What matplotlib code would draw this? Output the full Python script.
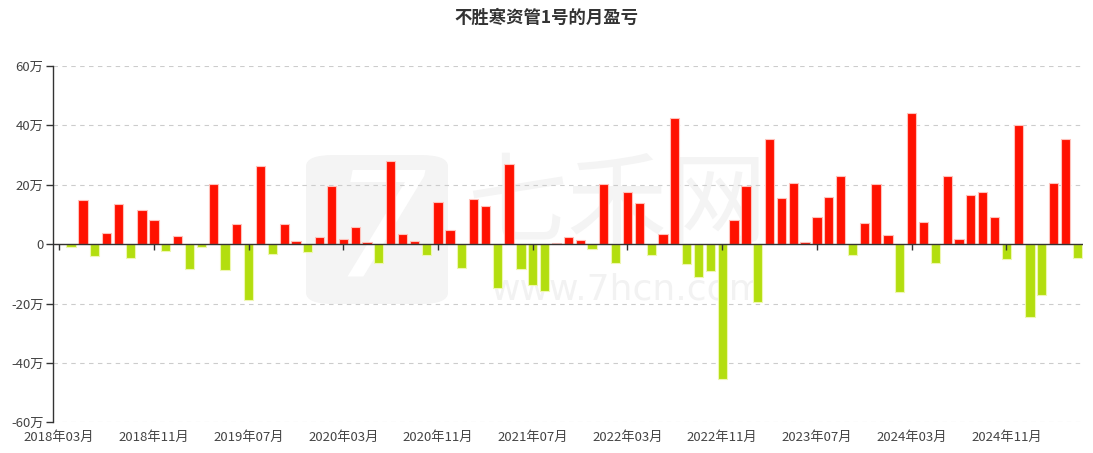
import matplotlib
matplotlib.use("Agg")
import matplotlib.pyplot as plt
from matplotlib.patches import FancyBboxPatch
import numpy as np

plt.rcParams['font.family'] = ['Noto Sans CJK SC', 'DejaVu Sans']

title = "不胜寒资管1号的月盈亏"

# months 2018-03 .. 2025-05
months = []
y, m = 2018, 3
for _ in range(87):
    months.append(f"{y}年{m:02d}月")
    m += 1
    if m > 12:
        m = 1
        y += 1

# monthly profit/loss, unit: 万
values = [
    0.0, -1.1, 14.9, -4.0, 3.6, 13.5, -4.7, 11.6, 8.1, -2.2,
    2.7, -8.5, -1.0, 20.3, -8.7, 6.8, -18.7, 26.3, -3.4, 6.8,
    0.9, -2.8, 2.4, 19.5, 1.9, 5.8, 0.7, -6.3, 27.9, 3.4,
    1.2, -3.6, 14.2, 4.8, -8.2, 15.1, 12.8, -14.8, 27.1, -8.4,
    -13.8, -15.9, 0.3, 2.4, 1.5, -1.5, 20.4, -6.5, 17.5, 14.0,
    -3.7, 3.5, 42.4, -6.6, -11.1, -9.2, -45.4, 8.0, 19.6, -19.6,
    35.3, 15.5, 20.6, 0.6, 9.3, 15.8, 23.1, -3.8, 7.2, 20.3,
    3.1, -16.0, 44.1, 7.3, -6.5, 23.0, 1.6, 16.7, 17.7, 9.1,
    -4.9, 40.2, -24.4, -17.0, 20.5, 35.5, -4.5,
]

y_ticks = [-60, -40, -20, 0, 20, 40, 60]
y_labels = ["-60万", "-40万", "-20万", "0", "20万", "40万", "60万"]

RED = "#ff1100"
GREEN = "#b3de0f"

W, H = 1093, 453
fig = plt.figure(figsize=(W / 100, H / 100), dpi=100)

def fx(px):
    return px / W

def fy(py):
    return 1 - py / H

# watermark (behind the axes)
wm = "#f4f4f4"
box = FancyBboxPatch((fx(306), fy(304)), fx(448) - fx(306), fy(155) - fy(304),
                     boxstyle="round,pad=0,rounding_size=0.025",
                     transform=fig.transFigure, facecolor=wm, edgecolor="none", zorder=0)
fig.patches.append(box)
fig.text(fx(380), fy(236), "7", transform=fig.transFigure, fontsize=105,
         color="white", ha="center", va="center",
         style="italic", family="DejaVu Sans", zorder=0.1)
fig.text(fx(617), fy(206), "七禾网", transform=fig.transFigure, fontsize=72,
         color=wm, ha="center", va="center", zorder=0.1)
fig.text(fx(627), fy(289), "www.7hcn.com", transform=fig.transFigure, fontsize=26,
         color="#f2f2f2", ha="center", va="center", family="DejaVu Sans", zorder=0.1)

ax = fig.add_axes([53.3 / W, 1 - 422.3 / H, 1030 / W, 356.3 / H])
ax.set_zorder(1)
ax.patch.set_alpha(0)

x = np.arange(len(months))
colors = [RED if v >= 0 else GREEN for v in values]
edges = ["#ffc2bb" if v >= 0 else "#eef7b0" for v in values]
ax.bar(x, values, width=0.78, color=colors, edgecolor=edges, linewidth=0.8, zorder=2)

ax.set_xlim(-0.5, len(months) - 0.5)
ax.set_ylim(-60, 60)

ax.set_yticks(y_ticks)
ax.set_yticklabels(y_labels)
for yt in y_ticks:
    if yt != 0:
        ax.axhline(yt, color="#cccccc", lw=0.8, ls=(0, (4, 4)), zorder=1)

label_idx = list(range(0, len(months), 8))
ax.set_xticks(label_idx)
ax.set_xticklabels([months[i] for i in label_idx])

ax.axhline(0, color="#333333", lw=1.0, zorder=3)
ax.plot(label_idx, [0] * len(label_idx), linestyle="none", marker=3,
        markersize=4, color="#333333", zorder=3, clip_on=False)

for s in ["top", "right", "bottom"]:
    ax.spines[s].set_visible(False)
ax.spines["left"].set_color("#333333")
ax.spines["left"].set_linewidth(1.0)

ax.tick_params(axis="y", length=5, width=1, color="#333333", labelsize=9.5,
               labelcolor="#444444", pad=2)
ax.tick_params(axis="x", length=0, labelsize=9.5, labelcolor="#444444", pad=6)

fig.text(0.5, fy(18), title, ha="center", va="center", fontsize=12.5,
         fontweight="bold", color="#333333")

fig.savefig("out.png", dpi=100)
